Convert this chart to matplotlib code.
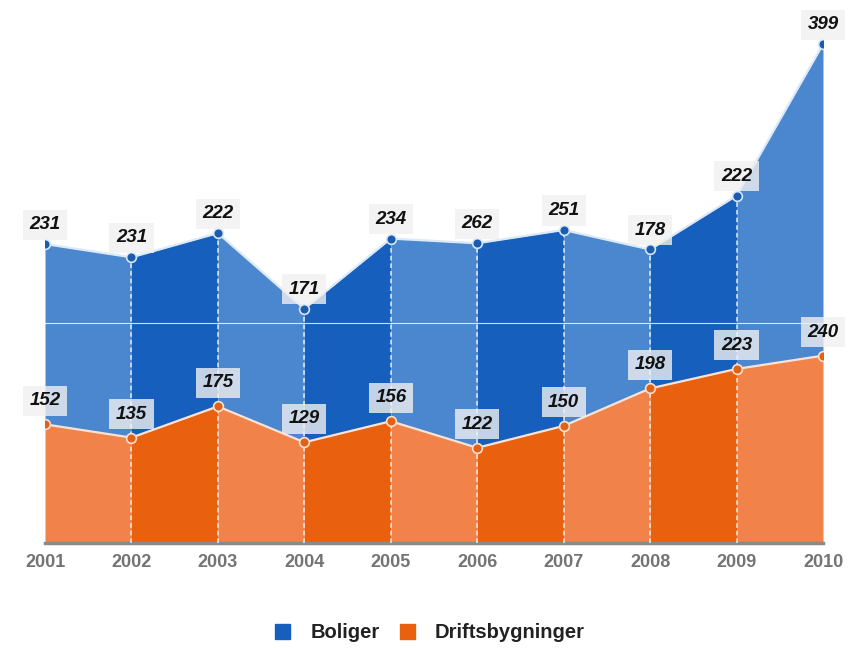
import matplotlib.pyplot as plt
from matplotlib.patches import Patch

plt.rcParams['font.family'] = ['Liberation Sans', 'DejaVu Sans']

years = [2001, 2002, 2003, 2004, 2005, 2006, 2007, 2008, 2009, 2010]
boliger = [231, 231, 222, 171, 234, 262, 251, 178, 222, 399]
drift = [152, 135, 175, 129, 156, 122, 150, 198, 223, 240]

blue_light, blue_dark = '#4b87cf', '#165fbd'
orange_light, orange_dark = '#f0824a', '#e9600f'


def main():
    fig = plt.figure(figsize=(8.52, 6.48), dpi=100)
    ax = fig.add_axes([45 / 852, 105 / 648, 778 / 852, 523 / 648])

    top = [d + b for d, b in zip(drift, boliger)]

    # alternating light/dark bands per interval
    for i in range(len(years) - 1):
        xs = years[i:i + 2]
        dark = i % 2 == 1
        ax.fill_between(xs, 0, drift[i:i + 2], color=orange_dark if dark else orange_light,
                        linewidth=0)
        ax.fill_between(xs, drift[i:i + 2], top[i:i + 2], color=blue_dark if dark else blue_light,
                        linewidth=0)

    # dashed separators
    for i in range(1, len(years) - 1):
        ax.plot([years[i], years[i]], [0, top[i]], color='white', lw=1.1, ls=(0, (3, 2)),
                alpha=0.85, zorder=3)

    ax.axhline(282, color='white', lw=0.8, alpha=0.8, zorder=2)

    ax.plot(years, drift, color='#fbe3d3', lw=1.6, zorder=4)
    ax.plot(years, top, color='#dce9f8', lw=1.6, zorder=4)
    ax.plot(years, drift, 'o', ms=7, color='#e0611a', mec='#fbe0cc', mew=1.2, zorder=5)
    ax.plot(years, top, 'o', ms=7, color='#1a5cb0', mec='#d8e6f7', mew=1.2, zorder=5)

    box = dict(boxstyle='square,pad=0.35', fc='#f0f0f0', ec='none', alpha=0.8)
    lab = dict(textcoords='offset points', ha='center', va='center', fontsize=13.5,
               fontweight='bold', fontstyle='italic', color='#111111', bbox=box, zorder=6)
    for x, d, t, b in zip(years, drift, top, boliger):
        ax.annotate(str(b), (x, t), xytext=(0, 14), **lab)
        ax.annotate(str(d), (x, d), xytext=(0, 17), **lab)

    ax.set_xlim(years[0], years[-1])
    ax.set_ylim(0, 670)
    ax.set_xticks(years)
    ax.set_xticklabels([str(y) for y in years], fontsize=13, fontweight='bold', color='#747474')
    ax.tick_params(axis='x', length=0, pad=8)
    ax.set_yticks([])
    for s in ['top', 'right', 'left']:
        ax.spines[s].set_visible(False)
    ax.spines['bottom'].set_color('#8a8a8a')
    ax.spines['bottom'].set_linewidth(2.5)
    ax.set_facecolor('none')

    handles = [Patch(color=blue_dark, label='Boliger'),
               Patch(color=orange_dark, label='Driftsbygninger')]
    leg = fig.legend(handles=handles, loc='center', bbox_to_anchor=(430 / 852, 1 - 633 / 648),
                     ncol=2, frameon=False, handlelength=0.75, handleheight=0.75,
                     handletextpad=1.0, columnspacing=1.0,
                     prop={'size': 14.5, 'weight': 'bold'})
    for t in leg.get_texts():
        t.set_color('#222222')

    fig.savefig('out.png', dpi=100)


if __name__ == '__main__':
    main()
